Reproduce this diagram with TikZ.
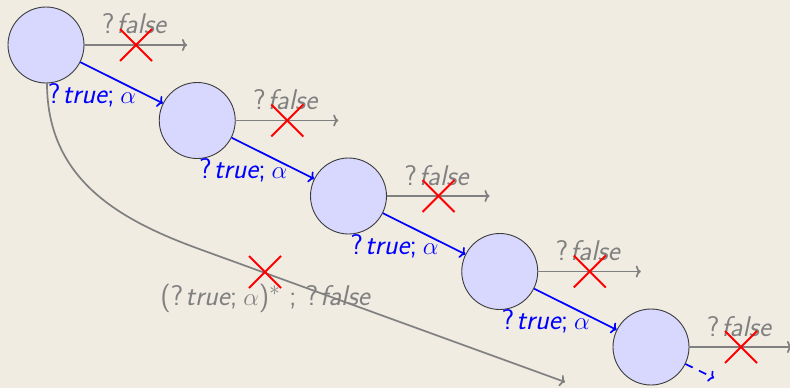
\documentclass[tikz,border=0pt]{standalone}
\usepackage{tikz}
\usetikzlibrary{arrows.meta}
\definecolor{bg}{RGB}{240,236,226}
\definecolor{nodefill}{RGB}{216,216,255}
\definecolor{edgegray}{RGB}{128,128,128}
\definecolor{nodeborder}{RGB}{60,60,60}
\newcommand{\qmark}{{\upshape ?}\kern2pt}
\newcommand{\fls}{\qmark{\itshape false}}
\newcommand{\tru}{\qmark{\itshape true}{\upshape ;}\kern6pt$\alpha$}
\tikzset{
  state/.style={circle, draw=nodeborder, line width=0.9pt, fill=nodefill, minimum size=76pt, inner sep=0pt},
  falsearrow/.style={draw=edgegray, line width=1.7pt, -{To[length=5pt,width=12pt]}},
  truearrow/.style={draw=blue, line width=1.7pt, -{To[length=5pt,width=12pt]}},
  crossline/.style={draw=red, line width=2pt},
  falselbl/.style={text=edgegray, anchor=base, inner sep=0pt, font=\fontsize{28.5}{32}\selectfont\sffamily},
  truelbl/.style={text=blue, anchor=base, inner sep=0pt, font=\fontsize{28.5}{32}\selectfont\sffamily},
}
\begin{document}
\begin{tikzpicture}[x=1pt,y=-1pt]
\fill[bg] (0,0) rectangle (790,388);
\useasboundingbox (0,0) rectangle (790,388);
% states
\foreach \i in {0,...,4} {
  \node[state] (s\i) at ({46+151.25*\i},{45+75.5*\i}) {};
  \coordinate (f\i) at ({46+151.25*\i+141},{45+75.5*\i});
  \draw[falsearrow] (s\i.east) -- (f\i);
  \node[falselbl] (fl\i) at ({46+151.25*\i+88},{45+75.5*\i-11}) {\fls};
  \draw[crossline] ({46+151.25*\i+74},{45+75.5*\i-16}) -- ({46+151.25*\i+106},{45+75.5*\i+16});
  \draw[crossline] ({46+151.25*\i+74},{45+75.5*\i+16}) -- ({46+151.25*\i+106},{45+75.5*\i-16});
}
\foreach \i/\j in {0/1,1/2,2/3,3/4} {
  \draw[truearrow] (s\i) -- (s\j);
  \node[truelbl] (tl\i) at ({46+151.25*\i+46},{45+75.5*\i+58}) {\tru};
}
% last dashed arrow
\coordinate (d4) at (714,378);
\draw[truearrow, dashed, dash pattern=on 8pt off 7pt] (s4) -- (d4);
% long curved arrow
\coordinate (cstart) at (47,83);
\coordinate (cmid) at (200,249.3);
\coordinate (cend) at (565,382);
\draw[falsearrow] (cstart) .. controls (47,180) and (120,220.2) .. (cmid) -- (cend);
\node[falselbl] (ll) at (265,305) {(\tru)$^{*}$ ; \fls};
\draw[crossline] (249,256) -- (281,288);
\draw[crossline] (249,288) -- (281,256);
\end{tikzpicture}
\end{document}
